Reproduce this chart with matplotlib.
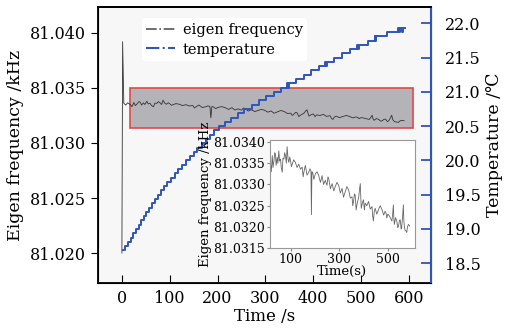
import matplotlib
matplotlib.use("Agg")
import matplotlib.pyplot as plt
from matplotlib.lines import Line2D
from matplotlib.patches import Rectangle
from matplotlib.ticker import FormatStrFormatter

plt.rcParams["font.family"] = ["DejaVu Serif", "DejaVu Sans"]

# eigen frequency (kHz) vs time (s), start spike then the slow drift
spike_time = [0, 1.5, 4, 8, 12]
spike_freq = [81.0200, 81.0392, 81.0336, 81.03345, 81.03365]

eig_time = [18, 21, 25, 28, 32, 35, 38, 41, 45, 48, 52, 55, 59, 62, 66, 69, 73, 76,
            79, 83, 86, 90, 93, 97, 100, 104, 107, 113, 120, 127, 134, 141, 148,
            152, 155, 161, 168, 175, 180, 184, 186, 188, 191, 196, 202, 209, 216,
            223, 230, 236, 243, 250, 254, 257, 264, 271, 278, 284, 291, 298, 305,
            312, 318, 325, 332, 339, 346, 353, 356, 359, 363, 366, 370, 373, 377,
            380, 384, 387, 389, 391, 396, 400, 404, 407, 414, 421, 428, 435, 438,
            441, 444, 448, 455, 462, 469, 476, 483, 489, 493, 496, 500, 503, 510,
            517, 520, 523, 525, 527, 532, 537, 541, 544, 548, 551, 555, 557, 561,
            564, 566, 568, 571, 574, 578, 581, 585, 590]
eig_freq = [81.03348, 81.03330, 81.03368, 81.03340, 81.03356, 81.03375, 81.03372,
            81.03345, 81.03364, 81.03350, 81.03379, 81.03355, 81.03360, 81.03340,
            81.03329, 81.03362, 81.03360, 81.03375, 81.03368, 81.03350, 81.03389,
            81.03360, 81.03352, 81.03365, 81.03356, 81.03342, 81.03348, 81.03358,
            81.03352, 81.03340, 81.03348, 81.03336, 81.03341, 81.03318, 81.03329,
            81.03345, 81.03322, 81.03329, 81.03337, 81.03332, 81.03229, 81.03330,
            81.03329, 81.03312, 81.03325, 81.03330, 81.03321, 81.03305, 81.03321,
            81.03300, 81.03310, 81.03298, 81.03318, 81.03314, 81.03290, 81.03302,
            81.03285, 81.03295, 81.03305, 81.03298, 81.03280, 81.03291, 81.03270,
            81.03283, 81.03295, 81.03287, 81.03268, 81.03271, 81.03250, 81.03260,
            81.03278, 81.03275, 81.03240, 81.03252, 81.03262, 81.03268, 81.03290,
            81.03302, 81.03270, 81.03244, 81.03258, 81.03264, 81.03240, 81.03256,
            81.03250, 81.03260, 81.03242, 81.03248, 81.03225, 81.03214, 81.03235,
            81.03244, 81.03230, 81.03241, 81.03250, 81.03241, 81.03228, 81.03237,
            81.03232, 81.03221, 81.03230, 81.03229, 81.03222, 81.03214, 81.03230,
            81.03252, 81.03220, 81.03206, 81.03222, 81.03214, 81.03198, 81.03202,
            81.03215, 81.03217, 81.03195, 81.03198, 81.03225, 81.03252, 81.03215,
            81.03202, 81.03192, 81.03191, 81.03187, 81.03200, 81.03206, 81.03202]

# temperature readings (deg C), stepwise sensor output
temp_time = [2, 7, 12, 18, 23, 29, 35, 40, 46, 51, 57, 62, 69, 75, 81, 88, 95,
             102, 110, 117, 125, 134, 143, 151, 158, 167, 175, 184, 193, 204, 216,
             229, 242, 256, 271, 286, 302, 317, 333, 346, 347, 349, 364, 380, 396,
             412, 425, 426, 428, 444, 460, 477, 492, 493, 495, 514, 529, 530, 532,
             555, 578, 579, 581, 586, 587, 592]
temp_value = [18.6875, 18.75, 18.8125, 18.875, 18.9375, 19.0, 19.0625, 19.125,
              19.1875, 19.25, 19.3125, 19.375, 19.4375, 19.5, 19.5625, 19.625,
              19.6875, 19.75, 19.8125, 19.875, 19.9375, 20.0, 20.0625, 20.125,
              20.1875, 20.25, 20.3125, 20.375, 20.4375, 20.5, 20.5625, 20.625,
              20.6875, 20.75, 20.8125, 20.875, 20.9375, 21.0, 21.0625, 21.125,
              21.0625, 21.125, 21.1875, 21.25, 21.3125, 21.375, 21.4375, 21.375,
              21.4375, 21.5, 21.5625, 21.625, 21.6875, 21.625, 21.6875, 21.75,
              21.8125, 21.75, 21.8125, 21.875, 21.9375, 21.875, 21.9375, 21.875,
              21.9375, 21.9375]

blue = "#2f55b8"

fig = plt.figure(figsize=(5.13, 3.3), dpi=100)
ax = fig.add_axes([0.191, 0.142, 0.649, 0.837])
ax.set_facecolor("#f7f7f7")

# highlighted region
ax.add_patch(Rectangle((17, 81.0314), 592, 0.0036, facecolor="#b4b4b8",
                       edgecolor="#e04848", linewidth=1.2, zorder=1))

ax.plot(spike_time + eig_time, spike_freq + eig_freq, color="#333333",
        linewidth=0.6, zorder=3)
ax.set_xlim(-50, 646)
ax.set_ylim(81.01727, 81.04236)
ax.set_xticks([0, 100, 200, 300, 400, 500, 600])
ax.set_yticks([81.020, 81.025, 81.030, 81.035, 81.040])
ax.yaxis.set_major_formatter(FormatStrFormatter("%.3f"))
ax.tick_params(axis="y", direction="out", labelsize=11.5, length=5)
ax.tick_params(axis="x", direction="in", labelsize=11.5, length=6, pad=5)
ax.set_xlabel("Time /s", fontsize=12, labelpad=1)
ax.set_ylabel("Eigen frequency /kHz", fontsize=12.5, labelpad=4)
for s in ["top", "left", "bottom"]:
    ax.spines[s].set_linewidth(1.3)

ax2 = ax.twinx()
ax2.plot(temp_time, temp_value, color=blue, linewidth=1.4,
         drawstyle="steps-post", zorder=3)
ax2.set_ylim(18.21, 22.24)
ax2.set_yticks([18.5, 19.0, 19.5, 20.0, 20.5, 21.0, 21.5, 22.0])
ax2.yaxis.set_major_formatter(FormatStrFormatter("%.1f"))
ax2.tick_params(axis="y", direction="in", labelsize=11.5, length=7,
                color=blue, width=1.3, pad=10)
ax2.spines["right"].set_color(blue)
ax2.spines["right"].set_linewidth(1.5)
ax2.spines["top"].set_linewidth(1.3)
ax2.set_ylabel("Temperature /\u2103", fontsize=12.5, labelpad=4)

handles = [Line2D([], [], color="#555555", linestyle="-.", linewidth=1.2),
           Line2D([], [], color=blue, linestyle="-.", linewidth=1.5)]
leg = ax2.legend(handles, ["eigen frequency", "temperature"], loc="upper left",
                 bbox_to_anchor=(0.11, 0.985), fontsize=10.5, frameon=True,
                 handlelength=2.0, handletextpad=0.5, borderpad=0.3,
                 labelspacing=0.4)
leg.get_frame().set_facecolor("white")
leg.get_frame().set_edgecolor("none")
leg.get_frame().set_alpha(1)

# zoomed inset
ins = fig.add_axes([0.526, 0.248, 0.283, 0.328])
ins.set_facecolor("white")
ins.plot(eig_time, eig_freq, color="#666666", linewidth=0.6)
ins.set_xlim(15, 612)
ins.set_ylim(81.0315, 81.03405)
ins.set_xticks([100, 300, 500])
ins.set_yticks([81.0315, 81.0320, 81.0325, 81.0330, 81.0335, 81.0340])
ins.yaxis.set_major_formatter(FormatStrFormatter("%.4f"))
ins.tick_params(labelsize=9, length=2, pad=1.5, color="#888888")
ins.set_xlabel("Time(s)", fontsize=9.5, labelpad=-1)
ins.set_ylabel("Eigen frequency /kHz", fontsize=9.5, labelpad=1)
for s in ins.spines.values():
    s.set_color("#999999")
    s.set_linewidth(0.8)

fig.savefig("out.png", dpi=100)
